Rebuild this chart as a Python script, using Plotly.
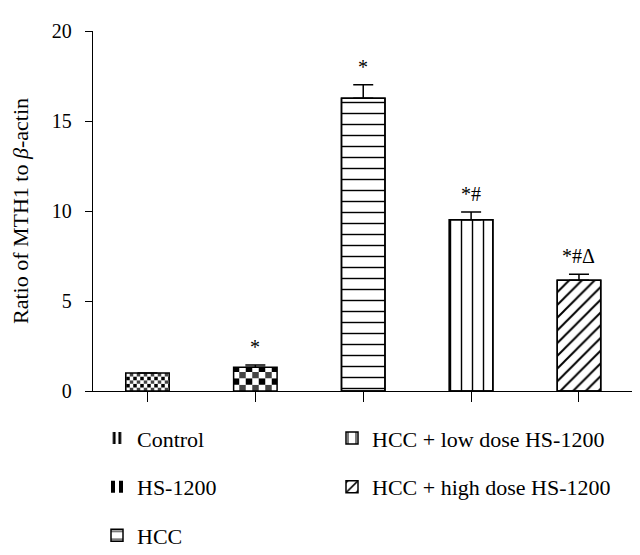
import plotly.graph_objects as go

# ---- data ----
categories = ["Control", "HS-1200", "HCC", "HCC + low dose HS-1200", "HCC + high dose HS-1200"]
values = [1.0, 1.32, 16.27, 9.51, 6.15]
errors = [None, 0.13, 0.74, 0.44, 0.33]
marks = ["", "*", "*", "*#", "*#Δ"]
y_ticks = [0, 5, 10, 15, 20]

# ---- styling ----
FONT = "Liberation Serif"
BAR_W = 0.403
legend_of = ["legend", "legend", "legend", "legend2", "legend2"]

PLOT_L, PLOT_R, PLOT_T, PLOT_B = 85, 626, 23, 382.7
W, H = 640, 555


def px_to_paper_x(px):
    return (px - PLOT_L) / (PLOT_R - PLOT_L)


def px_to_paper_y(py):
    return (PLOT_B - py) / (PLOT_B - PLOT_T)


def checker_rows(value, row_h):
    """Split a bar into stacked rows; alternate colours give a checkerboard."""
    bases, heights, fg, bg = [], [], [], []
    b, k = 0.0, 0
    while b < value - 1e-9:
        bases.append(b)
        heights.append(min(row_h, value - b))
        fg.append("black" if k % 2 == 0 else "white")
        bg.append("white" if k % 2 == 0 else "black")
        b += row_h
        k += 1
    return bases, heights, fg, bg


fig = go.Figure()

# checkerboard bars: (index, row height in data units, pattern size px)
for idx, row_h, psize in [(0, 0.2, 7), (1, 0.352, 13)]:
    bases, heights, fg, bg = checker_rows(values[idx], row_h)
    fig.add_trace(go.Bar(
        x=[categories[idx]] * len(heights), y=heights, base=bases, width=BAR_W,
        name=categories[idx], legend=legend_of[idx], legendgroup=categories[idx],
        marker=dict(color=bg, line=dict(width=0),
                    pattern=dict(shape="|", size=psize, solidity=0.5,
                                 fgcolor=fg, fgopacity=1, fillmode="overlay")),
        hoverinfo="skip",
    ))

# line-pattern bars
for idx, shape, psize, sol in [(2, "-", 11, 0.13), (3, "|", 11, 0.13), (4, "/", 9, 0.22)]:
    fig.add_trace(go.Bar(
        x=[categories[idx]], y=[values[idx]], width=BAR_W,
        name=categories[idx], legend=legend_of[idx], legendgroup=categories[idx],
        marker=dict(color="white", line=dict(color="black", width=1.5),
                    pattern=dict(shape=shape, size=psize, solidity=sol,
                                 fgcolor="black", bgcolor="white", fgopacity=1, fillmode="replace")),
        hoverinfo="skip",
    ))

# outlines + error bars
fig.add_trace(go.Bar(
    x=categories, y=values, width=BAR_W, showlegend=False,
    marker=dict(color="rgba(0,0,0,0)", line=dict(color="black", width=1.5)),
    error_y=dict(type="data", array=errors, symmetric=False,
                 arrayminus=[0] * len(values), color="black", thickness=1.5, width=10),
    hoverinfo="skip",
))

for i, m in enumerate(marks):
    if m:
        fig.add_annotation(x=categories[i], y=values[i] + (errors[i] or 0), text=m,
                           showarrow=False, yanchor="bottom", yshift=5,
                           font=dict(family=FONT, size=20, color="black"))

fig.update_layout(
    width=W, height=H,
    margin=dict(l=PLOT_L, r=W - PLOT_R, t=PLOT_T, b=H - PLOT_B, autoexpand=False),
    barmode="overlay",
    plot_bgcolor="white", paper_bgcolor="white",
    font=dict(family=FONT, color="black", size=20),
    xaxis=dict(type="category", range=[-0.505, 4.51], showline=True, linecolor="black",
               linewidth=1.3, ticks="outside", ticklen=10, tickwidth=1.3, tickcolor="black",
               showticklabels=False, showgrid=False, zeroline=False),
    yaxis=dict(range=[0, 20], tickvals=y_ticks, showline=True, linecolor="black",
               linewidth=1.3, ticks="outside", ticklen=7, tickwidth=1.3, tickcolor="black",
               ticklabelstandoff=9,
               showgrid=False, zeroline=False, tickfont=dict(size=20),
               title=dict(text="Ratio of MTH1 to <i>β</i>-actin", font=dict(size=22), standoff=18)),
    legend=dict(x=px_to_paper_x(89), y=px_to_paper_y(409),
                xanchor="left", yanchor="top", orientation="v", tracegroupgap=17,
                font=dict(size=22), bgcolor="rgba(0,0,0,0)"),
    legend2=dict(x=px_to_paper_x(324), y=px_to_paper_y(409),
                 xanchor="left", yanchor="top", orientation="v", tracegroupgap=17,
                 font=dict(size=22), bgcolor="rgba(0,0,0,0)"),
)

fig.write_html("out.html")
